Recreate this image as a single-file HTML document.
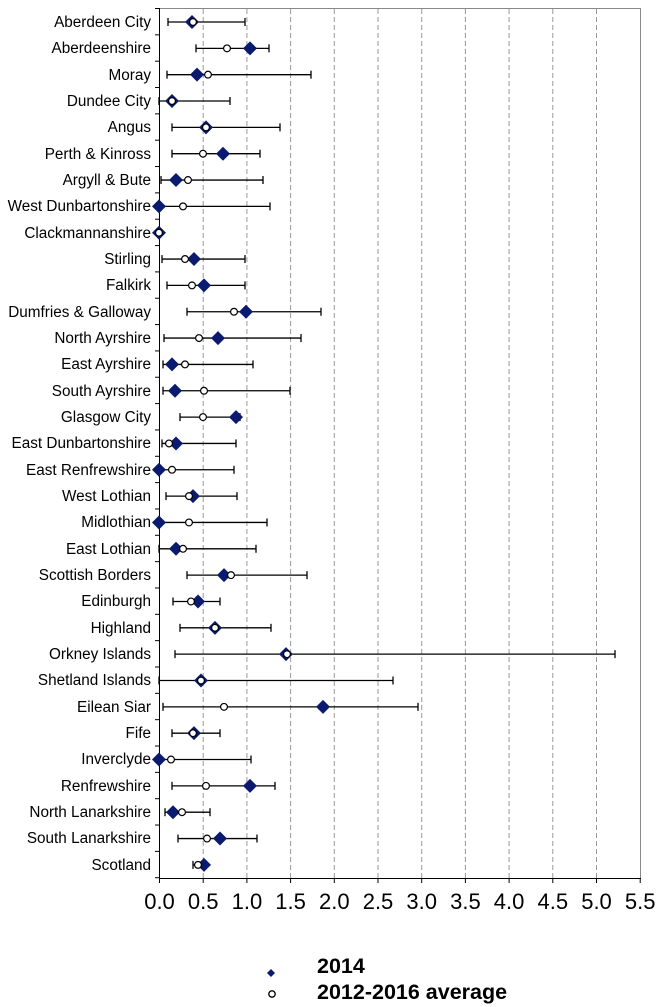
<!DOCTYPE html>
<html><head><meta charset="utf-8"><style>
body{margin:0;background:#fff}
svg{display:block;font-family:"Liberation Sans",Arial,sans-serif}
.l{font-size:15.3px;text-anchor:end}
.t{font-size:22px;text-anchor:middle}
</style></head><body>
<svg id="s" width="665" height="1007" viewBox="0 0 665 1007">
<g id="grid"></g>
<rect x="159.5" y="8.5" width="481" height="870" fill="none" stroke="#888" stroke-width="1"/>
<line x1="159.5" y1="8" x2="159.5" y2="879" stroke="#000"/>
<line x1="159" y1="878.5" x2="641" y2="878.5" stroke="#000"/>
<g id="ticks"></g>
<g id="data"></g>
<g class="l">
<text x="151" y="27">Aberdeen City</text>
<text x="151" y="53">Aberdeenshire</text>
<text x="151" y="80">Moray</text>
<text x="151" y="106">Dundee City</text>
<text x="151" y="132">Angus</text>
<text x="151" y="159">Perth &amp; Kinross</text>
<text x="151" y="185">Argyll &amp; Bute</text>
<text x="151" y="211">West Dunbartonshire</text>
<text x="151" y="238">Clackmannanshire</text>
<text x="151" y="264">Stirling</text>
<text x="151" y="290">Falkirk</text>
<text x="151" y="317">Dumfries &amp; Galloway</text>
<text x="151" y="343">North Ayrshire</text>
<text x="151" y="369">East Ayrshire</text>
<text x="151" y="396">South Ayrshire</text>
<text x="151" y="422">Glasgow City</text>
<text x="151" y="448">East Dunbartonshire</text>
<text x="151" y="475">East Renfrewshire</text>
<text x="151" y="501">West Lothian</text>
<text x="151" y="527">Midlothian</text>
<text x="151" y="554">East Lothian</text>
<text x="151" y="580">Scottish Borders</text>
<text x="151" y="606">Edinburgh</text>
<text x="151" y="633">Highland</text>
<text x="151" y="659">Orkney Islands</text>
<text x="151" y="685">Shetland Islands</text>
<text x="151" y="712">Eilean Siar</text>
<text x="151" y="738">Fife</text>
<text x="151" y="764">Inverclyde</text>
<text x="151" y="791">Renfrewshire</text>
<text x="151" y="817">North Lanarkshire</text>
<text x="151" y="843">South Lanarkshire</text>
<text x="151" y="870">Scotland</text>
</g>
<g class="t">
<text x="159.5" y="909">0.0</text><text x="203.2" y="909">0.5</text><text x="246.9" y="909">1.0</text><text x="290.6" y="909">1.5</text><text x="334.3" y="909">2.0</text><text x="378" y="909">2.5</text><text x="421.7" y="909">3.0</text><text x="465.4" y="909">3.5</text><text x="509.1" y="909">4.0</text><text x="552.8" y="909">4.5</text><text x="596.5" y="909">5.0</text><text x="640.2" y="909">5.5</text>
</g>
<polygon points="271,969 275,973 271,977 267,973" fill="#0a1a6e"/>
<circle cx="272" cy="994" r="3.2" fill="#fff" stroke="#000" stroke-width="1.3"/>
<text x="317" y="973" font-size="21.5" font-weight="bold">2014</text>
<text x="317" y="999" font-size="21.5" font-weight="bold">2012-2016 average</text>
</svg>
<script>
var ns="http://www.w3.org/2000/svg";
function el(p,t,a){var e=document.createElementNS(ns,t);for(var k in a)e.setAttribute(k,a[k]);p.appendChild(e);return e;}
var g=document.getElementById("grid"),tk=document.getElementById("ticks"),d=document.getElementById("data");
for(var i=1;i<=10;i++){var x=159.5+i*43.7;el(g,"line",{x1:x,y1:9,x2:x,y2:878,stroke:"#999","stroke-dasharray":"5,3"});}
for(var i=0;i<=11;i++){var x=159.5+i*43.7;el(tk,"line",{x1:x,y1:878,x2:x,y2:883,stroke:"#000"});}
for(var i=0;i<=33;i++){var y=8.5+i*26.34;el(tk,"line",{x1:155,y1:y,x2:160,y2:y,stroke:"#000"});}
var D=[[168,193,192,245],[196,227,250,269],[167,208,197,311],[159,172,172,230],[172,206,206,280],[172,203,223,260],[161,188,176,263],[159,183,159,270],[159,159,159,159],[162,185,194,245],[167,192,204,245],[187,234,246,321],[164,199,218,301],[163,185,172,253],[163,204,175,290],[180,203,236,240],[162,169,176,236],[159,172,159,234],[166,189,193,237],[159,189,159,267],[159,183,176,256],[187,231,224,307],[173,191,198,220],[180,215,215,271],[175,287,286,615],[159,201,201,393],[163,224,323,418],[172,193,194,220],[159,171,159,251],[172,206,250,275],[165,182,173,210],[178,207,220,257],[193,198,204,206]];
D.forEach(function(r,i){var y=22+i*26.34;
if(r[3]>r[0]){el(d,"line",{x1:r[0],y1:y,x2:r[3],y2:y,stroke:"#000","stroke-width":1.3});
el(d,"line",{x1:r[0],y1:y-4,x2:r[0],y2:y+4,stroke:"#000","stroke-width":1.3});
el(d,"line",{x1:r[3],y1:y-4,x2:r[3],y2:y+4,stroke:"#000","stroke-width":1.3});}
var x=r[2];el(d,"polygon",{points:(x)+","+(y-7)+" "+(x+7)+","+y+" "+x+","+(y+7)+" "+(x-7)+","+y,fill:"#0a1a6e"});
el(d,"circle",{cx:r[1],cy:y,r:3.4,fill:"#fff",stroke:"#000","stroke-width":1.2});
});
</script>
</body></html>
